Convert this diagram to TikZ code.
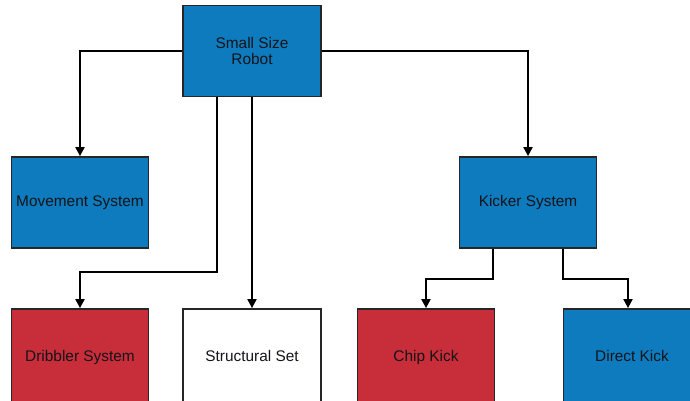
\documentclass[tikz,border=0pt]{standalone}
\usepackage{fontspec}
\setmainfont{Liberation Sans}
\usetikzlibrary{arrows.meta}
\definecolor{boxblue}{RGB}{14,123,190}
\definecolor{boxred}{RGB}{200,45,58}
\definecolor{txt}{RGB}{20,20,25}
\begin{document}
\begin{tikzpicture}[x=1pt,y=-1pt,
  box/.style={draw=black!85, line width=1.8pt, minimum width=137pt, minimum height=91pt,
    inner sep=0pt, align=center, text=txt, font=\fontsize{15.4}{16.5}\selectfont},
  bluebox/.style={box, fill=boxblue},
  redbox/.style={box, fill=boxred},
  whitebox/.style={box, fill=white},
  lowbox/.style={minimum height=99pt},
  conn/.style={draw=black, line width=2pt, -{Triangle[length=9pt,width=9pt]}}
]
\useasboundingbox (0,0) rectangle (690,400);
\clip (0,0) rectangle (690,400);
\node[bluebox, minimum width=138pt] (robot) at (252,51) {Small Size\\Robot};
\node[bluebox] (move) at (80,202.5) {Movement System};
\node[bluebox] (kick) at (528,202.5) {Kicker System};
\node[redbox, lowbox] (drib) at (80,358.5) {\raisebox{6pt}{Dribbler System}};
\node[whitebox, lowbox, minimum width=138pt] (struct) at (252,358.5) {\raisebox{6pt}{Structural Set}};
\node[redbox, lowbox] (chip) at (426,358.5) {\raisebox{6pt}{Chip Kick}};
\node[bluebox, lowbox] (direct) at (632,358.5) {\raisebox{6pt}{Direct Kick}};

\coordinate (rb1) at ([xshift=-35pt]robot.south);
\coordinate (kb1) at ([xshift=-35pt]kick.south);
\coordinate (kb2) at ([xshift=35pt]kick.south);
\coordinate (dtop) at ([xshift=-4pt]direct.north);

\draw[conn] (robot.west) -| (move.north);
\draw[conn] (robot.east) -| (kick.north);
\draw[conn] (rb1) -- (rb1 |- 0,272) -| (drib.north);
\draw[conn] (robot.south) -- (struct.north);
\draw[conn] (kb1) -- (kb1 |- 0,279) -| (chip.north);
\draw[conn] (kb2) -- (kb2 |- 0,279) -| (dtop);
\end{tikzpicture}
\end{document}
